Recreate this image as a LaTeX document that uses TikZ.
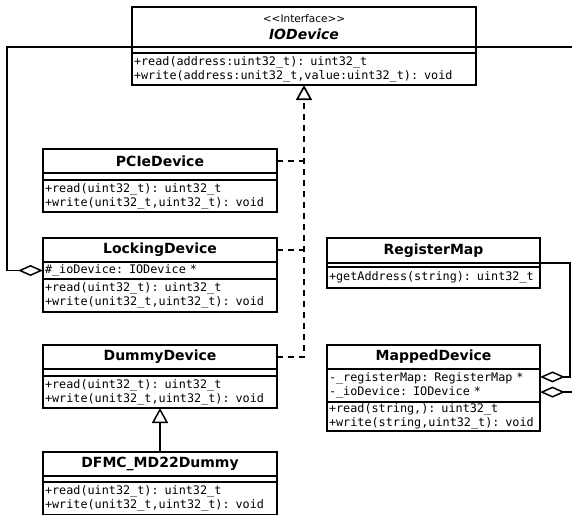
\documentclass[tikz,border=0pt]{standalone}
\usepackage{fontspec}
\setmainfont{DejaVu Sans}
\setsansfont{DejaVu Sans}
\setmonofont{DejaVu Sans Mono}
\usetikzlibrary{arrows.meta,positioning,calc}

\begin{document}
\begin{tikzpicture}[
   x=1pt, y=-1pt,
   node distance=0pt,
   box/.style   ={draw,line width=1.5pt,inner sep=0pt,outer sep=0pt},
   ctitle/.style={box,minimum height=24pt,align=center,font=\sffamily\bfseries\fontsize{14}{16}\selectfont},
   slot/.style  ={box,minimum height=7pt},
   memb/.style  ={box,inner xsep=2pt,align=left,font=\ttfamily\fontsize{11.8}{14}\selectfont},
   lcol/.style  ={minimum width=234pt},
   rcol/.style  ={minimum width=213pt},
   impl/.style  ={-{Triangle[open,length=15pt,width=16pt]},line width=1.7pt,dash pattern=on 6pt off 5pt},
   gen/.style   ={-{Triangle[open,length=15pt,width=16pt]},line width=1.5pt},
   agg/.style   ={-{Diamond[open,length=25pt,width=11pt]},line width=1.5pt}
  ]
  \useasboundingbox (0,0) rectangle (572,514);
  \clip (0,0) rectangle (572,514);

  % interface
  \node[ctitle,minimum width=344pt,minimum height=40pt,anchor=north west] (ioT) at (132,7)
    {{\mdseries\fontsize{10.5}{12}\selectfont <{}<Interface>{}>}\\[1pt]\itshape IODevice};
  \node[slot,minimum width=344pt,minimum height=6pt,below=of ioT] (ioS) {};
  \node[memb,text width=340pt,minimum height=32pt,below=of ioS] (ioO)
    {+read(address:uint32\_t): uint32\_t\\+write(address:unit32\_t,value:uint32\_t): void};

  % left column
  \node[ctitle,lcol,anchor=north west] (pciT) at (43,149) {PCIeDevice};
  \node[slot,lcol,below=of pciT] (pciS) {};
  \node[memb,text width=230pt,minimum height=32pt,below=of pciS] (pciO)
    {+read(uint32\_t): uint32\_t\\+write(unit32\_t,uint32\_t): void};

  \node[ctitle,lcol,anchor=north west] (lockT) at (43,238) {LockingDevice};
  \node[memb,text width=230pt,minimum height=17pt,below=of lockT] (lockA)
    {\#\_ioDevice: IODevice *};
  \node[memb,text width=230pt,minimum height=33pt,below=of lockA] (lockO)
    {+read(uint32\_t): uint32\_t\\+write(unit32\_t,uint32\_t): void};

  \node[ctitle,lcol,anchor=north west] (dumT) at (43,345) {DummyDevice};
  \node[slot,lcol,below=of dumT] (dumS) {};
  \node[memb,text width=230pt,minimum height=32pt,below=of dumS] (dumO)
    {+read(uint32\_t): uint32\_t\\+write(unit32\_t,uint32\_t): void};

  \node[ctitle,lcol,anchor=north west] (dfT) at (43,452) {DFMC\_MD22Dummy};
  \node[slot,lcol,minimum height=6pt,below=of dfT] (dfS) {};
  \node[memb,text width=230pt,minimum height=33pt,below=of dfS] (dfO)
    {+read(uint32\_t): uint32\_t\\+write(unit32\_t,uint32\_t): void};

  % right column
  \node[ctitle,rcol,minimum height=25pt,anchor=north west] (regT) at (327,238) {RegisterMap};
  \node[slot,rcol,minimum height=4pt,below=of regT] (regS) {};
  \node[memb,text width=209pt,minimum height=21pt,below=of regS] (regO)
    {+getAddress(string): uint32\_t};

  \node[ctitle,rcol,anchor=north west] (mapT) at (327,345) {MappedDevice};
  \node[memb,text width=209pt,minimum height=33pt,below=of mapT] (mapA)
    {-\_registerMap: RegisterMap *\\-\_ioDevice: IODevice *};
  \node[memb,text width=209pt,minimum height=29pt,below=of mapA] (mapO)
    {+read(string,): uint32\_t\\+write(string,uint32\_t): void};

  \coordinate (mapReg) at ($(mapA.north east)!0.24!(mapA.south east)$);
  \coordinate (mapIo)  at ($(mapA.north east)!0.70!(mapA.south east)$);

  % realisation
  \draw[impl,-] (pciT.east) -- (pciT.east -| ioO.south);
  \draw[impl,-] (lockT.east) -- (lockT.east -| ioO.south);
  \draw[impl] (dumT.east) -| (ioO.south);

  % inheritance
  \draw[gen] (dfT.north) -- (dumO.south);

  % aggregation
  \draw[agg] (ioT.south west) -- ++(-125,0) |- (lockA.west);
  \draw[agg] (regT.south east) -- ++(30,0) |- (mapReg);
  \draw[agg] (ioT.south east) -- ++(110,0) |- (mapIo);
\end{tikzpicture}
\end{document}
